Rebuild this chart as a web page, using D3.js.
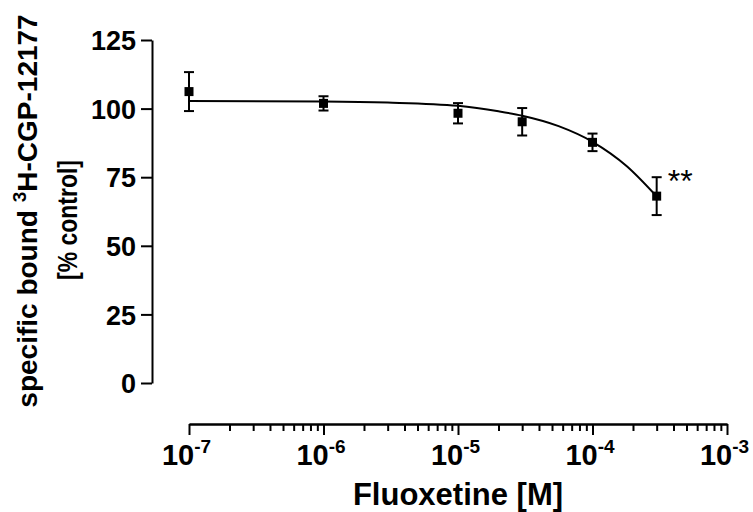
<!DOCTYPE html>
<html>
<meta charset="utf-8">
<style>
body { margin: 0; background: #fff; }
svg { display: block; }
text { font-family: "Liberation Sans", Arial, sans-serif; font-weight: bold; fill: #000; }
.axis path, .axis line { stroke: #000; stroke-width: 2px; }
</style>
<head>
<script src="https://cdn.jsdelivr.net/npm/d3@7"></script>
</head>
<body>
<script>
// concentrations (M), means and SEM
var conc = [1e-7, 1e-6, 1e-5, 3e-5, 1e-4, 3e-4];
var bound = [106.2, 101.9, 98.3, 95.2, 87.7, 68.1];
var sem = [7.1, 2.6, 3.7, 5.0, 3.2, 6.9];

// fitted curve
var curveConc = [1e-7, 1e-6, 3e-6, 1e-5, 2e-5, 3e-5, 5.6e-5, 1e-4, 1.8e-4, 3e-4];
var curveVal = [102.8, 102.6, 102.2, 101.0, 99.0, 97.4, 93.6, 87.9, 79.0, 68.0];

var yTicks = [0, 25, 50, 75, 100, 125];
var xMajor = [1e-7, 1e-6, 1e-5, 1e-4, 1e-3];
var xExp = ["-7", "-6", "-5", "-4", "-3"];

var width = 753, height = 512;

var svg = d3.select("body").append("svg")
  .attr("width", width)
  .attr("height", height);

var x = d3.scaleLog().domain([1e-7, 1e-3]).range([189, 727]);
var y = d3.scaleLinear().domain([0, 125]).range([383, 40]);

// y axis
var yAxis = svg.append("g")
  .attr("class", "axis")
  .attr("transform", "translate(152,0)")
  .call(d3.axisLeft(y).tickValues(yTicks).tickSize(11).tickSizeOuter(0));
yAxis.selectAll("text")
  .attr("x", -16)
  .attr("dy", "0.36em")
  .style("font-size", "27px");

// x axis: minor ticks then major ticks
var xMinor = [];
for (var e = -7; e < -3; e++) {
  for (var m = 2; m < 10; m++) xMinor.push(m * Math.pow(10, e));
}
svg.append("g")
  .attr("class", "axis")
  .attr("transform", "translate(0,424)")
  .call(d3.axisBottom(x).tickValues(xMinor).tickSize(7).tickSizeOuter(0).tickFormat(""));
var xAxis = svg.append("g")
  .attr("class", "axis")
  .attr("transform", "translate(0,424)")
  .call(d3.axisBottom(x).tickValues(xMajor).tickSize(11).tickSizeOuter(0).tickFormat(""));
xAxis.selectAll(".tick").each(function(d, i) {
  var t = d3.select(this).append("text")
    .attr("y", 41)
    .attr("x", -3)
    .attr("text-anchor", "middle")
    .style("font-size", "29px");
  t.append("tspan").text("10");
  t.append("tspan")
    .attr("dy", -12)
    .style("font-size", "19px")
    .text(xExp[i]);
});

// fitted curve
var line = d3.line()
  .x(function(d, i) { return x(curveConc[i]); })
  .y(function(d) { return y(d); })
  .curve(d3.curveMonotoneX);
svg.append("path")
  .datum(curveVal)
  .attr("d", line)
  .attr("fill", "none")
  .attr("stroke", "#000")
  .attr("stroke-width", 2);

// error bars
var pts = svg.append("g").selectAll("g")
  .data(bound)
  .enter().append("g")
  .attr("transform", function(d, i) { return "translate(" + x(conc[i]) + ",0)"; });
pts.append("line")
  .attr("y1", function(d, i) { return y(d + sem[i]); })
  .attr("y2", function(d, i) { return y(d - sem[i]); })
  .attr("stroke", "#000").attr("stroke-width", 2);
pts.append("line")
  .attr("x1", -5).attr("x2", 5)
  .attr("y1", function(d, i) { return y(d + sem[i]); })
  .attr("y2", function(d, i) { return y(d + sem[i]); })
  .attr("stroke", "#000").attr("stroke-width", 2);
pts.append("line")
  .attr("x1", -5).attr("x2", 5)
  .attr("y1", function(d, i) { return y(d - sem[i]); })
  .attr("y2", function(d, i) { return y(d - sem[i]); })
  .attr("stroke", "#000").attr("stroke-width", 2);
pts.append("rect")
  .attr("x", -4.5).attr("width", 9)
  .attr("y", function(d) { return y(d) - 4.5; })
  .attr("height", 9)
  .attr("fill", "#000");

// significance mark next to last point
svg.append("text")
  .attr("x", x(3e-4) + 11)
  .attr("y", y(bound[5]) - 4)
  .style("font-size", "32px")
  .style("font-weight", "normal")
  .text("**");

// axis titles
svg.append("text")
  .attr("x", 458)
  .attr("y", 505)
  .attr("text-anchor", "middle")
  .style("font-size", "31px")
  .text("Fluoxetine [M]");

var yt = svg.append("text")
  .attr("transform", "translate(37,211) rotate(-90)")
  .attr("text-anchor", "middle")
  .style("font-size", "28px");
yt.append("tspan").text("specific bound ");
yt.append("tspan").attr("dy", -11).style("font-size", "19px").text("3");
yt.append("tspan").attr("dy", 11).text("H-CGP-12177");

svg.append("text")
  .attr("transform", "translate(77,220) scale(1.2,1) rotate(-90)")
  .attr("text-anchor", "middle")
  .style("font-size", "23px")
  .text("[% control]");
</script>
</body>
</html>
